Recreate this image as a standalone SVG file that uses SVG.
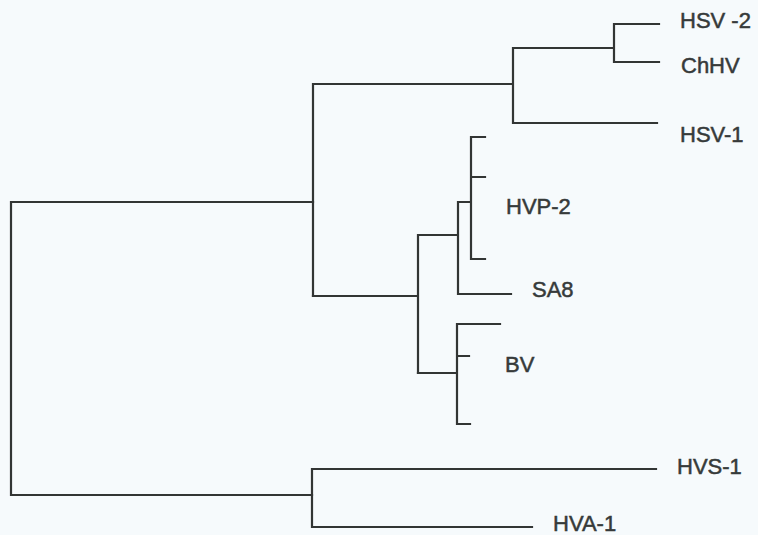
<svg xmlns="http://www.w3.org/2000/svg" width="758" height="535" viewBox="0 0 758 535">
<style>
.br{fill:none;stroke:#323534;stroke-width:2.2;stroke-linecap:square;stroke-linejoin:miter}
.lb{font-family:"Liberation Sans",Arial,sans-serif;font-size:22px;fill:#363a3a;stroke:#363a3a;stroke-width:0.5}
</style>
<rect width="758" height="535" fill="#f6fafc"/>
<g id="connectors">
<path class="br" d="M11,202 H313 M11,202 V495 H312"/>
<path class="br" d="M313,84 V296 M313,84 H513 M513,48 V123 M513,48 H614 M614,24 V62 M614,24 H659 M614,62 H659 M513,123 H657"/>
<path class="br" d="M313,296 H418 M418,235 V373 M418,235 H458 M458,202 V294 M458,202 H471 M471,137 V259 M471,137 H485 M471,177 H485 M471,259 H485 M458,294 H511"/>
<path class="br" d="M418,373 H457 M457,324 V424 M457,324 H500 M457,356 H469 M457,424 H470"/>
<path class="br" d="M312,469 V527 M312,469 H656 M312,527 H532"/>
</g>
<g id="HSV-2"><text class="lb" x="680" y="28">HSV -2</text></g>
<g id="ChHV"><text class="lb" x="681" y="73">ChHV</text></g>
<g id="HSV-1"><text class="lb" x="680" y="142">HSV-1</text></g>
<g id="HVP-2"><text class="lb" x="506" y="214">HVP-2</text></g>
<g id="SA8"><text class="lb" x="532" y="297">SA8</text></g>
<g id="BV"><text class="lb" x="505" y="372">BV</text></g>
<g id="HVS-1"><text class="lb" x="677" y="474">HVS-1</text></g>
<g id="HVA-1"><text class="lb" x="553" y="531">HVA-1</text></g>
</svg>
